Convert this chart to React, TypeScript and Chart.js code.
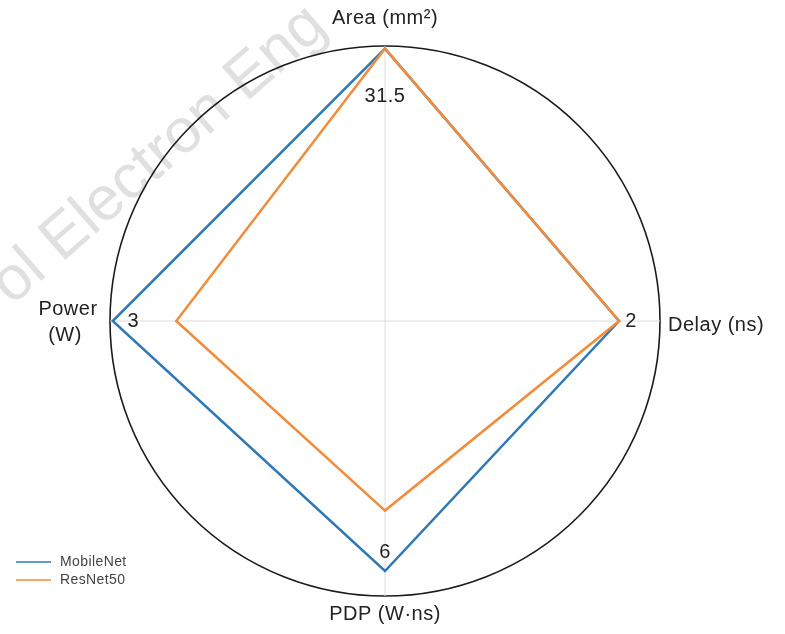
import React, { useEffect, useRef } from "react";
import { Chart, registerables } from "chart.js";

Chart.register(...registerables);

const AXES = ["Area (mm²)", "Delay (ns)", "PDP (W·ns)", "Power (W)"];
const AXIS_MAX = [31.8, 2.35, 6.6, 3.03];
const AXIS_TICKS = ["31.5", "2", "6", "3"];
const MOBILENET = [31.5, 2.0, 6.0, 3.0];
const RESNET50 = [31.5, 2.0, 4.55, 2.3];
const SERIES = ["MobileNet", "ResNet50"];

const BLUE = "#2f78b8";
const ORANGE = "#f28c3a";
const FONT = "'Liberation Sans', Arial, sans-serif";

const norm = (vals: number[]) => vals.map((v, i) => v / AXIS_MAX[i]);

const decorPlugin = {
  id: "decor",
  beforeDraw(chart: any) {
    const ctx = chart.ctx;
    ctx.save();
    ctx.fillStyle = "#ffffff";
    ctx.fillRect(0, 0, chart.width, chart.height);
    // watermark
    ctx.translate(12, 306);
    ctx.rotate((-41 * Math.PI) / 180);
    ctx.font = `62px ${FONT}`;
    ctx.fillStyle = "rgba(224,224,224,1)";
    ctx.textBaseline = "alphabetic";
    ctx.fillText("ol Electron Eng", 0, 0);
    ctx.restore();
  },
  afterDraw(chart: any) {
    const ctx = chart.ctx;
    const r = chart.scales.r;
    ctx.save();
    ctx.fillStyle = "#222";
    ctx.font = `20px ${FONT}`;
    (ctx as any).letterSpacing = "0.5px";
    ctx.textBaseline = "middle";
    // axis titles
    const top = r.getPointPosition(0, r.drawingArea + 28);
    ctx.textAlign = "center";
    ctx.fillText(AXES[0], top.x, top.y);
    const right = r.getPointPosition(1, r.drawingArea + 8);
    ctx.textAlign = "left";
    ctx.fillText(AXES[1], right.x, right.y + 4);
    const bottom = r.getPointPosition(2, r.drawingArea + 18);
    ctx.textAlign = "center";
    ctx.fillText(AXES[2], bottom.x, bottom.y);
    const left = r.getPointPosition(3, r.drawingArea + 45);
    const parts = AXES[3].split(" ");
    ctx.fillText(parts[0], left.x + 3, left.y - 12);
    ctx.fillText(parts[1], left.x + 0, left.y + 14);
    // tick values
    const fr = [0.815, 0.895, 0.84, 0.915];
    AXIS_TICKS.forEach((t, i) => {
      const p = r.getPointPosition(i, r.drawingArea * fr[i]);
      ctx.textAlign = "center";
      ctx.fillText(t, p.x, p.y);
    });
    // legend
    ctx.font = `14px ${FONT}`;
    (ctx as any).letterSpacing = "0.4px";
    ctx.textAlign = "left";
    chart.data.datasets.forEach((ds: any, i: number) => {
      const y = 562 + i * 18;
      ctx.strokeStyle = ds.borderColor;
      ctx.lineWidth = 1.5;
      ctx.beginPath();
      ctx.moveTo(16, y);
      ctx.lineTo(51, y);
      ctx.stroke();
      ctx.fillStyle = "#444";
      ctx.fillText(ds.label, 60, y);
    });
    ctx.restore();
  },
};

export default function App() {
  const ref = useRef<HTMLCanvasElement>(null);
  useEffect(() => {
    if (!ref.current) return;
    const chart = new Chart(ref.current, {
      type: "radar",
      data: {
        labels: AXES,
        datasets: [
          {
            label: SERIES[0],
            data: norm(MOBILENET),
            borderColor: BLUE,
            backgroundColor: "transparent",
            borderWidth: 2.5,
            pointRadius: 0,
            fill: false,
            order: 1,
          },
          {
            label: SERIES[1],
            data: norm(RESNET50),
            borderColor: ORANGE,
            backgroundColor: "transparent",
            borderWidth: 2.5,
            pointRadius: 0,
            fill: false,
            order: 0,
          },
        ],
      },
      options: {
        animation: false,
        responsive: false,
        layout: { padding: { left: 110, right: 125, top: 46, bottom: 38 } },
        plugins: { legend: { display: false }, tooltip: { enabled: false } },
        elements: { line: { tension: 0 } },
        scales: {
          r: {
            min: 0,
            max: 1,
            beginAtZero: true,
            ticks: { display: false, stepSize: 1 },
            grid: { circular: true, color: "#1a1a1a", lineWidth: 1.6 },
            angleLines: { display: true, color: "#dcdcdc", lineWidth: 1 },
            pointLabels: { display: false },
          },
        },
      },
      plugins: [decorPlugin],
    });
    return () => chart.destroy();
  }, []);
  return (
    <div style={{ position: "fixed", left: 0, top: 0, width: 785, height: 634, background: "#fff" }}>
      <canvas ref={ref} width={785} height={634} />
    </div>
  );
}
